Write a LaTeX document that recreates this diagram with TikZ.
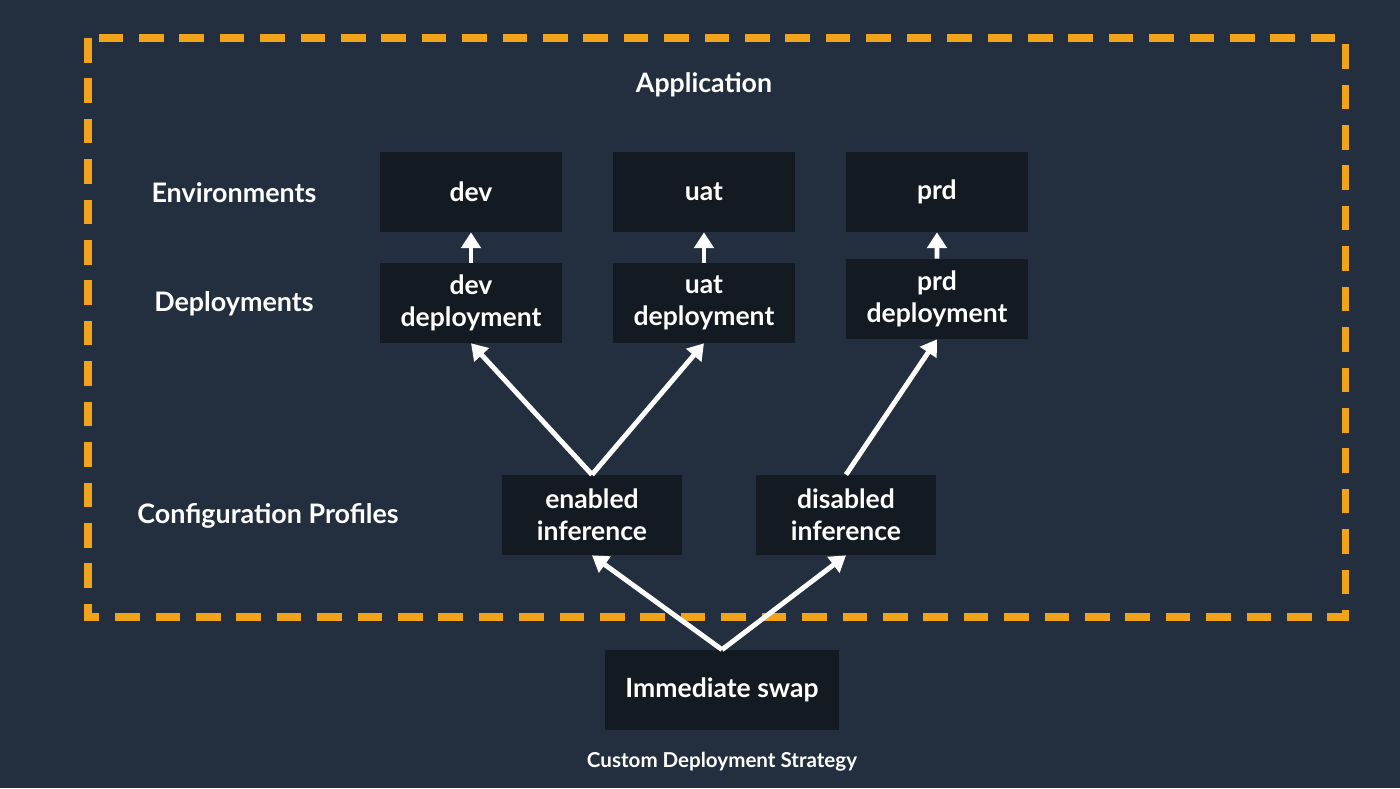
\documentclass[tikz,border=0pt]{standalone}
\usepackage{fontspec}
\setmainfont{Lato}
\usepackage{tikz}
\usetikzlibrary{positioning,arrows.meta}

\definecolor{bgnavy}{HTML}{232F3E}
\definecolor{boxdark}{HTML}{131A22}
\definecolor{awsorange}{HTML}{F2A31C}

\tikzset{
  stage/.style={fill=boxdark,text=white,font=\fontsize{15.1}{18}\selectfont\bfseries,
    align=center,inner sep=0pt,minimum width=3.64cm,minimum height=1.6cm},
  rowlabel/.style={text=white,font=\fontsize{15.3}{18}\selectfont\bfseries},
  flow/.style={draw=white,line width=2.8pt,-{Triangle[length=9pt,width=11pt]}}
}

\begin{document}
\begin{tikzpicture}[x=0.02cm,y=-0.02cm,every node/.style={on grid}]
    \fill[bgnavy] (0,0) rectangle (1400,788);
    \useasboundingbox (0,0) rectangle (1400,788);
    \draw[awsorange,line width=4pt,dash pattern=on 14pt off 9pt] (88,38) rectangle (1345,617);

    \node[text=white,font=\fontsize{15.2}{18}\selectfont\bfseries] (App) at (704,85) {Application};

    % environments
    \node[stage] (dev) at (471,192) {dev};
    \node[stage,right=4.66cm of dev] (uat) {uat};
    \node[stage,right=4.66cm of uat] (prd) {prd};

    % deployments
    \node[stage,below=2.22cm of dev] (devDep) {dev\\deployment};
    \node[stage,below=2.22cm of uat] (uatDep) {uat\\deployment};
    \node[stage] (prdDep) at (937,299) {prd\\deployment};

    % configuration profiles
    \node[stage,minimum width=3.6cm] (enabled) at (592,515) {enabled\\inference};
    \node[stage,minimum width=3.6cm] (disabled) at (846,515) {disabled\\inference};

    \node[stage,minimum width=4.7cm] (swap) at (722,690) {Immediate swap};

    \node[rowlabel] (EnvLbl) at (234,193) {Environments};
    \node[rowlabel] (DepLbl) at (234,304) {Deployments};
    \node[rowlabel] (CfgLbl) at (268,516) {Configuration Profiles};
    \node[text=white,font=\fontsize{11.7}{14}\selectfont\bfseries] (Caption) at (722,762) {Custom Deployment Strategy};

    \draw[flow] (devDep) -- (dev);
    \draw[flow] (uatDep) -- (uat);
    \draw[flow] (prdDep) -- (prd);
    \draw[flow] (enabled.north) -- (devDep.south);
    \draw[flow] (enabled.north) -- (uatDep.south);
    \draw[flow] (disabled.north) -- (prdDep.south);
    \draw[flow] (swap.north) -- (enabled.south);
    \draw[flow] (swap.north) -- (disabled.south);
  \end{tikzpicture}
\end{document}
